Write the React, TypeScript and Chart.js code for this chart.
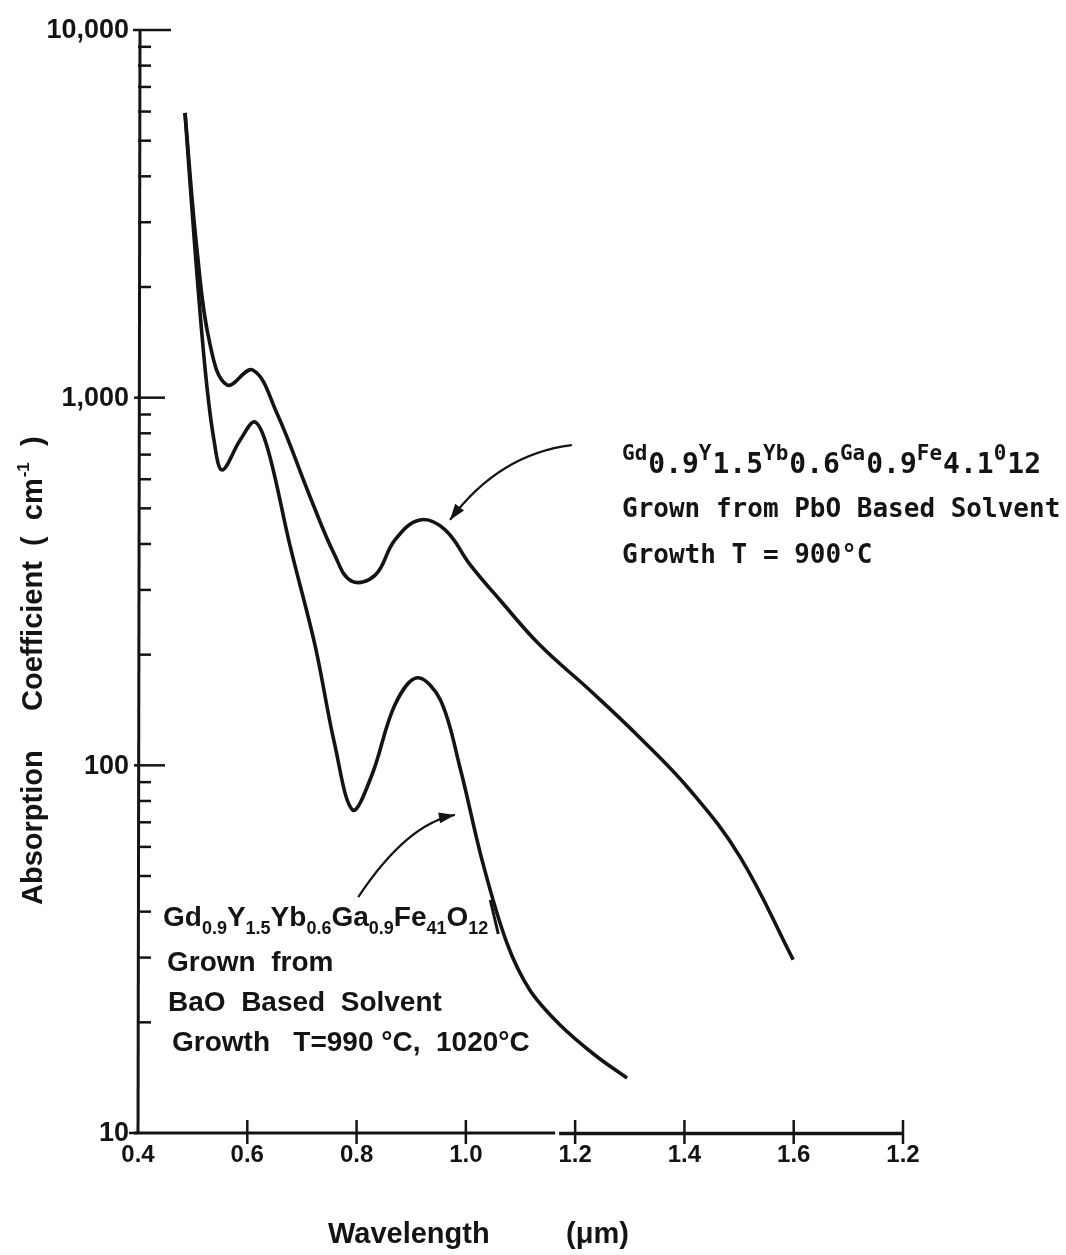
import React, { useEffect, useRef } from "react";
import { Chart, registerables } from "chart.js";

Chart.register(...registerables);

// Wavelength (µm) and absorption coefficient (cm^-1)
const pboWavelength = [0.486, 0.508, 0.532, 0.563, 0.61, 0.654, 0.715, 0.76, 0.791, 0.834, 0.87, 0.916, 0.962, 1.008, 1.062, 1.136, 1.227, 1.319, 1.41, 1.502, 1.599];
const pboAbsorption = [5947, 2521, 1391, 1083, 1189, 908, 537, 373, 317, 329, 410, 465, 437, 351, 282, 212, 160, 118.7, 85.7, 56.3, 29.6];

const baoWavelength = [0.486, 0.504, 0.523, 0.539, 0.554, 0.587, 0.614, 0.638, 0.678, 0.724, 0.76, 0.793, 0.828, 0.87, 0.911, 0.953, 0.989, 1.031, 1.075, 1.117, 1.172, 1.236, 1.295];
const baoAbsorption = [5947, 2569, 1189, 767, 636, 767, 859, 721, 397, 212, 114, 75.6, 94.1, 146, 173, 151, 99, 54.3, 32.9, 24.5, 19.7, 16.3, 14.1];

const xTickValues = [0.4, 0.6, 0.8, 1.0, 1.2, 1.4, 1.6, 1.8];
const xTickLabels = ["0.4", "0.6", "0.8", "1.0", "1.2", "1.4", "1.6", "1.2"];
const yMajorValues = [10, 100, 1000, 10000];
const yMajorLabels = ["10", "100", "1,000", "10,000"];
const yMinorMultipliers = [2, 3, 4, 5, 6, 7, 8, 9];

// annotation arrows in data space: [tail, control, tip]
const pboArrow = [
  [1.194, 743],
  [1.061, 703],
  [0.971, 465],
];
const baoArrow = [
  [0.803, 43.8],
  [0.892, 69.3],
  [0.98, 73.3],
];

const pboFormula: [string, boolean][] = [
  ["Gd", true], ["0.9", false], ["Y", true], ["1.5", false], ["Yb", true], ["0.6", false],
  ["Ga", true], ["0.9", false], ["Fe", true], ["4.1", false], ["0", true], ["12", false],
];
const pboLines = ["Grown from PbO Based Solvent", "Growth T = 900°C"];

const baoFormula: [string, boolean][] = [
  ["Gd", false], ["0.9", true], ["Y", false], ["1.5", true], ["Yb", false], ["0.6", true],
  ["Ga", false], ["0.9", true], ["Fe", false], ["41", true], ["O", false], ["12", true],
];
const baoLines = ["Grown  from", "BaO  Based  Solvent", "Growth   T=990 °C,  1020°C"];

const INK = "#141414";
const LETTER = "'Liberation Sans', Arial, sans-serif";
const MONO = "'DejaVu Sans Mono', 'Liberation Mono', monospace";

const decorPlugin = {
  id: "decor",
  beforeDraw(chart: any) {
    const ctx = chart.ctx;
    ctx.save();
    ctx.fillStyle = "#ffffff";
    ctx.fillRect(0, 0, chart.width, chart.height);
    ctx.restore();
  },
  afterDraw(chart: any) {
    const ctx: CanvasRenderingContext2D = chart.ctx;
    const xs = chart.scales.x;
    const ys = chart.scales.y;
    const left = xs.getPixelForValue(0.4);
    const right = xs.getPixelForValue(1.8);
    const top = ys.getPixelForValue(10000);
    const bottom = ys.getPixelForValue(10);
    ctx.save();
    ctx.strokeStyle = INK;
    ctx.fillStyle = INK;
    ctx.lineCap = "butt";

    // y axis
    ctx.lineWidth = 3;
    ctx.beginPath();
    ctx.moveTo(left + 2, top);
    ctx.lineTo(left, bottom + 1);
    ctx.stroke();

    // x axis with small break
    const gap = xs.getPixelForValue(1.167);
    ctx.beginPath();
    ctx.moveTo(left - 4, bottom);
    ctx.lineTo(gap - 2, bottom);
    ctx.stroke();
    ctx.lineWidth = 3.5;
    ctx.beginPath();
    ctx.moveTo(gap + 2, bottom + 0.5);
    ctx.lineTo(right, bottom + 0.5);
    ctx.stroke();

    // x ticks
    ctx.lineWidth = 2.5;
    xTickValues.forEach((v, i) => {
      if (i === 0) return;
      const px = xs.getPixelForValue(v);
      ctx.beginPath();
      ctx.moveTo(px, bottom - 13);
      ctx.lineTo(px, bottom + 11);
      ctx.stroke();
    });

    // y minor ticks (inward)
    ctx.lineWidth = 2.5;
    [10, 100, 1000].forEach((d) => {
      yMinorMultipliers.forEach((m) => {
        const py = ys.getPixelForValue(m * d);
        ctx.beginPath();
        ctx.moveTo(left, py);
        ctx.lineTo(left + 13, py);
        ctx.stroke();
      });
    });
    // y major ticks
    yMajorValues.forEach((v) => {
      const py = ys.getPixelForValue(v);
      let a = left - 4, b = left + 27;
      if (v === 10000) { a = left - 5; b = left + 33; }
      if (v === 10) { a = left - 9; b = left; }
      ctx.beginPath();
      ctx.moveTo(a, py);
      ctx.lineTo(b, py);
      ctx.stroke();
    });

    // y labels
    ctx.font = `bold 27px ${LETTER}`;
    ctx.textAlign = "right";
    ctx.textBaseline = "middle";
    yMajorValues.forEach((v, i) => {
      ctx.fillText(yMajorLabels[i], left - 9, ys.getPixelForValue(v) + 1);
    });

    // x labels
    ctx.font = `bold 24px ${LETTER}`;
    ctx.textAlign = "center";
    ctx.textBaseline = "top";
    xTickValues.forEach((v, i) => {
      ctx.fillText(xTickLabels[i], xs.getPixelForValue(v), bottom + 10);
    });

    // x title
    ctx.font = `bold 29px ${LETTER}`;
    ctx.textAlign = "left";
    ctx.textBaseline = "alphabetic";
    ctx.fillText("Wavelength", 328, 1243);
    ctx.fillText("(μm)", 566, 1243);

    // y title (rotated)
    ctx.save();
    ctx.translate(42, 0);
    ctx.rotate(-Math.PI / 2);
    ctx.font = `bold 29px ${LETTER}`;
    ctx.textAlign = "left";
    ctx.textBaseline = "alphabetic";
    ctx.fillText("Absorption", -905, 0);
    ctx.fillText("Coefficient", -711, 0);
    let u = -546;
    ctx.fillText("(  cm", u, 0);
    u += ctx.measureText("(  cm").width;
    ctx.font = `bold 17px ${LETTER}`;
    ctx.fillText("-1", u + 1, -13);
    u += ctx.measureText("-1").width + 1;
    ctx.font = `bold 29px ${LETTER}`;
    ctx.fillText("  )", u, 0);
    ctx.restore();

    // arrows
    const drawArrow = (pts: number[][]) => {
      const p = pts.map(([w, a]) => [xs.getPixelForValue(w), ys.getPixelForValue(a)]);
      ctx.lineWidth = 2.2;
      ctx.beginPath();
      ctx.moveTo(p[0][0], p[0][1]);
      ctx.quadraticCurveTo(p[1][0], p[1][1], p[2][0], p[2][1]);
      ctx.stroke();
      const ang = Math.atan2(p[2][1] - p[1][1], p[2][0] - p[1][0]);
      const L = 16, W = 5.5;
      const tx = p[2][0], ty = p[2][1];
      ctx.beginPath();
      ctx.moveTo(tx, ty);
      ctx.lineTo(tx - L * Math.cos(ang) + W * Math.sin(ang), ty - L * Math.sin(ang) - W * Math.cos(ang));
      ctx.lineTo(tx - L * Math.cos(ang) - W * Math.sin(ang), ty - L * Math.sin(ang) + W * Math.cos(ang));
      ctx.closePath();
      ctx.fill();
    };
    drawArrow(pboArrow);
    drawArrow(baoArrow);

    // PbO label (typewriter)
    let x = 622;
    const base1 = 473;
    pboFormula.forEach(([t, raised]) => {
      ctx.font = raised ? `bold 21px ${MONO}` : `bold 28px ${MONO}`;
      ctx.fillText(t, x, raised ? base1 - 13 : base1);
      x += ctx.measureText(t).width + (raised ? 1 : 0);
    });
    ctx.font = `bold 26px ${MONO}`;
    ctx.fillText(pboLines[0], 622, 517);
    ctx.fillText(pboLines[1], 622, 563);

    // BaO label (lettering)
    x = 163;
    const base2 = 926;
    baoFormula.forEach(([t, sub]) => {
      ctx.font = sub ? `bold 18px ${LETTER}` : `bold 28px ${LETTER}`;
      ctx.fillText(t, x, sub ? base2 + 8 : base2);
      x += ctx.measureText(t).width;
    });
    ctx.lineWidth = 3;
    ctx.beginPath();
    ctx.moveTo(x + 2, base2 - 26);
    ctx.lineTo(x + 10, base2 + 8);
    ctx.stroke();
    ctx.font = `bold 28px ${LETTER}`;
    ctx.fillText(baoLines[0], 167, 971);
    ctx.fillText(baoLines[1], 168, 1011);
    ctx.fillText(baoLines[2], 172, 1051);

    ctx.restore();
  },
};

export default function App() {
  const ref = useRef<HTMLCanvasElement | null>(null);
  useEffect(() => {
    document.body.style.margin = "0";
    const canvas = ref.current;
    if (!canvas) return;
    const chart = new Chart(canvas, {
      type: "line",
      data: {
        datasets: [
          {
            label: "PbO",
            data: pboWavelength.map((w, i) => ({ x: w, y: pboAbsorption[i] })),
            borderColor: INK,
            borderWidth: 3.6,
            pointRadius: 0,
            fill: false,
            tension: 0.4,
          },
          {
            label: "BaO",
            data: baoWavelength.map((w, i) => ({ x: w, y: baoAbsorption[i] })),
            borderColor: INK,
            borderWidth: 3.6,
            pointRadius: 0,
            fill: false,
            tension: 0.35,
          },
        ],
      },
      options: {
        responsive: false,
        animation: false,
        devicePixelRatio: 1,
        events: [],
        layout: { padding: { left: 138, right: 163, top: 30, bottom: 122 } },
        scales: {
          x: { type: "linear", min: 0.4, max: 1.8, display: false },
          y: { type: "logarithmic", min: 10, max: 10000, display: false },
        },
        plugins: { legend: { display: false }, tooltip: { enabled: false } },
      } as any,
      plugins: [decorPlugin],
    });
    return () => chart.destroy();
  }, []);
  return <canvas ref={ref} width={1066} height={1255} style={{ display: "block" }} />;
}
